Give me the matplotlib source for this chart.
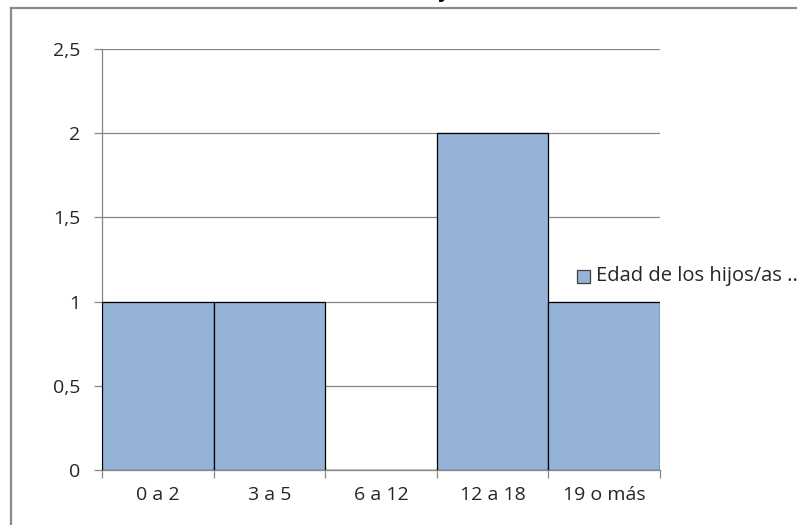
import matplotlib
matplotlib.use("Agg")
import matplotlib.pyplot as plt
from matplotlib.lines import Line2D
from matplotlib.patches import Rectangle

# Data
categories = ["0 a 2", "3 a 5", "6 a 12", "12 a 18", "19 o más"]
values = [1, 1, 0, 2, 1]
y_ticks = [0, 0.5, 1, 1.5, 2, 2.5]
y_labels = ["0", "0,5", "1", "1,5", "2", "2,5"]
series_name = "Edad de los hijos/as ..."
title = "Edad de los hijos/as"

plt.rcParams["font.family"] = ["Open Sans", "DejaVu Sans"]

W, H = 797, 525
fig = plt.figure(figsize=(W / 100, H / 100), dpi=100)
ax = fig.add_axes([102 / W, 55 / H, (660 - 102) / W, (476 - 55) / H])

bar_color = "#95B3D7"
grid_color = "#868686"
text_color = "#262626"

x = list(range(len(categories)))
ax.bar(x, values, width=1.0, color=bar_color, edgecolor="black", linewidth=0.9,
       zorder=3)

ax.set_xlim(-0.5, len(categories) - 0.5)
ax.set_ylim(0, 2.5)

ax.set_yticks(y_ticks)
ax.set_yticklabels(y_labels)
ax.yaxis.grid(True, color=grid_color, linewidth=0.9, zorder=0)
ax.set_axisbelow(True)

ax.set_xticks(x)
ax.set_xticklabels(categories)
ax.set_xticks([i - 0.5 for i in range(len(categories) + 1)], minor=True)
ax.tick_params(axis="x", which="major", length=0, pad=11.5, labelsize=14,
               labelcolor=text_color)
ax.tick_params(axis="x", which="minor", length=6, color=grid_color, width=0.9)
ax.tick_params(axis="y", length=6, color=grid_color, width=0.9, pad=9.5,
               labelsize=14, labelcolor=text_color)

for s in ["top", "right"]:
    ax.spines[s].set_visible(False)
for s in ["left", "bottom"]:
    ax.spines[s].set_color(grid_color)
    ax.spines[s].set_linewidth(0.9)

# Legend entry on the right
fig.patches.append(Rectangle((577 / W, 1 - 283 / H), 13 / W, 13 / H,
                             transform=fig.transFigure, facecolor=bar_color,
                             edgecolor="#404040", linewidth=0.9))
fig.text(596 / W, 1 - 276 / H, series_name, ha="left", va="center",
         fontsize=14.5, color=text_color)

# Chart title, sitting above the visible frame
fig.text(402 / W, 1 + 2.5 / H, title, ha="center", va="baseline", fontsize=14,
         fontweight="bold", color="black")

# Outer chart frame
fig.add_artist(Line2D([10.5 / W, 10.5 / W], [0, 1 - 8 / H],
                      transform=fig.transFigure, color="#8a8a8a", linewidth=1.6))
fig.add_artist(Line2D([10.5 / W, 1], [1 - 8 / H, 1 - 8 / H],
                      transform=fig.transFigure, color="#8a8a8a", linewidth=1.6))

fig.savefig("out.png", dpi=100)
